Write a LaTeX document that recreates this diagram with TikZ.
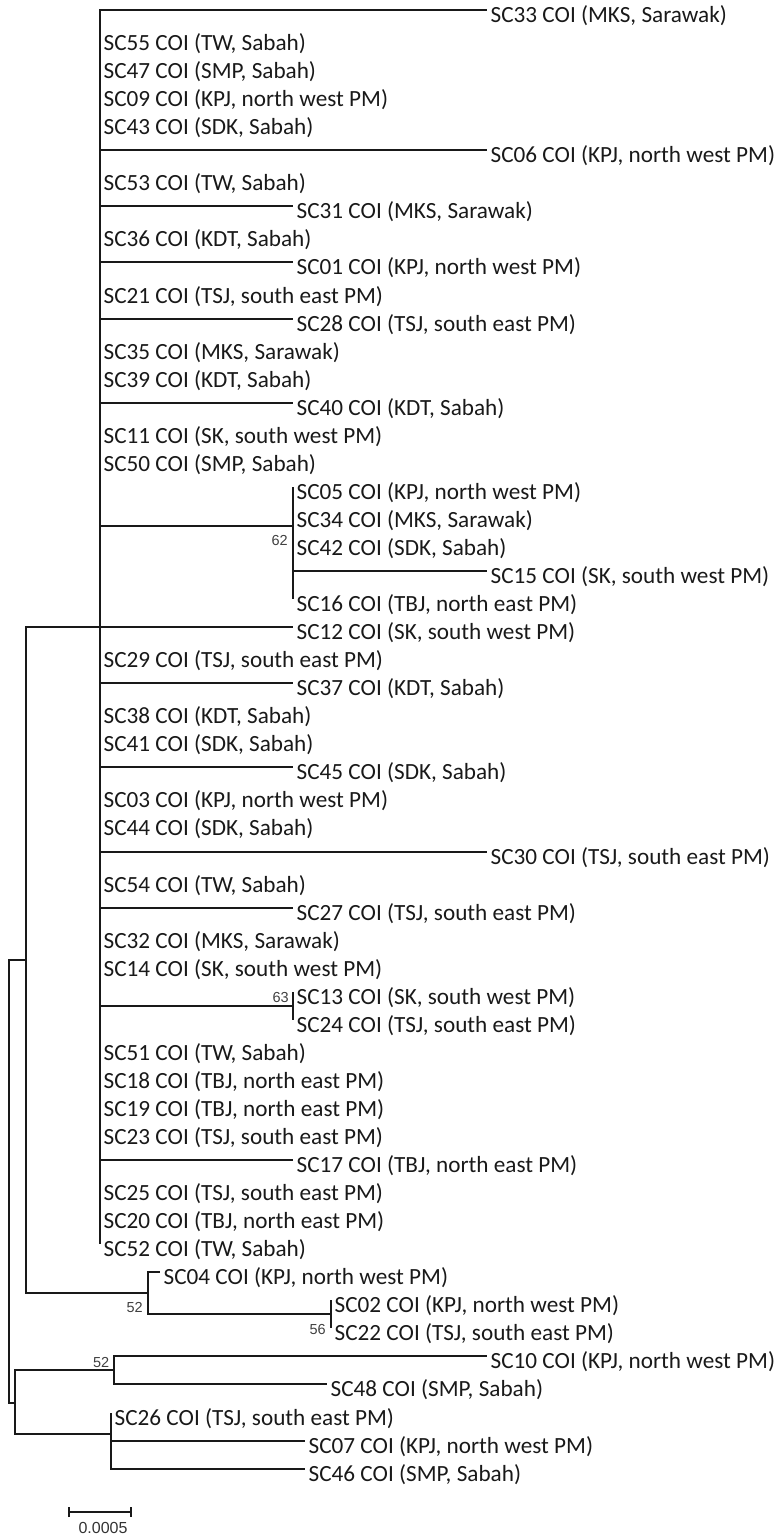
\documentclass[tikz,border=0pt]{standalone}
\usepackage{fontspec}
\setmainfont{Carlito}
\newfontfamily\numfont{Liberation Sans}
\usetikzlibrary{arrows.meta,positioning}

\begin{document}
\begin{tikzpicture}[
  x=1pt, y=-1pt,
  branch/.style={line width=2pt, black!90},
  leaf/.style={anchor=base west, inner sep=0pt, xshift=3.5pt, yshift=-12.5pt,
    font=\fontsize{23.2}{27}\selectfont, text=black!90},
  boot/.style={inner sep=0pt, font=\numfont\fontsize{14.5}{17}\selectfont, text=black!75},
  scalelbl/.style={inner sep=0pt, font=\numfont\fontsize{16}{19}\selectfont, text=black!80},
]
\useasboundingbox (0,0) rectangle (777,1537);

% Internal nodes
\coordinate (root) at (9,1181);
\coordinate (nA) at (26,960);
\coordinate (nMain) at (100,627.1);
\coordinate (n62) at (293,526);
\coordinate (n63) at (293,1005.8);
\coordinate (nB) at (148,1293.3);
\coordinate (n56) at (331,1314.4);
\coordinate (nC) at (15,1402.5);
\coordinate (nD) at (114,1370.4);
\coordinate (nE) at (111,1434);

% Leaves of the main clade
\path (487,10) coordinate (t33) node[leaf] (sc33) {SC33 COI (MKS, Sarawak)};
\path (100,38.05) coordinate (t55) node[leaf] (sc55) {SC55 COI (TW, Sabah)};
\path (100,66.1) coordinate (t47) node[leaf] (sc47) {SC47 COI (SMP, Sabah)};
\path (100,94.15) coordinate (t09) node[leaf] (sc09) {SC09 COI (KPJ, north west PM)};
\path (100,122.2) coordinate (t43) node[leaf] (sc43) {SC43 COI (SDK, Sabah)};
\path (487,150.25) coordinate (t06) node[leaf] (sc06) {SC06 COI (KPJ, north west PM)};
\path (100,178.3) coordinate (t53) node[leaf] (sc53) {SC53 COI (TW, Sabah)};
\path (293,206.35) coordinate (t31) node[leaf] (sc31) {SC31 COI (MKS, Sarawak)};
\path (100,234.4) coordinate (t36) node[leaf] (sc36) {SC36 COI (KDT, Sabah)};
\path (293,262.45) coordinate (t01) node[leaf] (sc01) {SC01 COI (KPJ, north west PM)};
\path (100,290.5) coordinate (t21) node[leaf] (sc21) {SC21 COI (TSJ, south east PM)};
\path (293,318.55) coordinate (t28) node[leaf] (sc28) {SC28 COI (TSJ, south east PM)};
\path (100,346.6) coordinate (t35) node[leaf] (sc35) {SC35 COI (MKS, Sarawak)};
\path (100,374.65) coordinate (t39) node[leaf] (sc39) {SC39 COI (KDT, Sabah)};
\path (293,402.7) coordinate (t40) node[leaf] (sc40) {SC40 COI (KDT, Sabah)};
\path (100,430.75) coordinate (t11) node[leaf] (sc11) {SC11 COI (SK, south west PM)};
\path (100,458.8) coordinate (t50) node[leaf] (sc50) {SC50 COI (SMP, Sabah)};
\path (293,486.85) coordinate (t05) node[leaf] (sc05) {SC05 COI (KPJ, north west PM)};
\path (293,514.9) coordinate (t34) node[leaf] (sc34) {SC34 COI (MKS, Sarawak)};
\path (293,542.95) coordinate (t42) node[leaf] (sc42) {SC42 COI (SDK, Sabah)};
\path (487,571) coordinate (t15) node[leaf] (sc15) {SC15 COI (SK, south west PM)};
\path (293,599.05) coordinate (t16) node[leaf] (sc16) {SC16 COI (TBJ, north east PM)};
\path (293,627.1) coordinate (t12) node[leaf] (sc12) {SC12 COI (SK, south west PM)};
\path (100,655.15) coordinate (t29) node[leaf] (sc29) {SC29 COI (TSJ, south east PM)};
\path (293,683.2) coordinate (t37) node[leaf] (sc37) {SC37 COI (KDT, Sabah)};
\path (100,711.25) coordinate (t38) node[leaf] (sc38) {SC38 COI (KDT, Sabah)};
\path (100,739.3) coordinate (t41) node[leaf] (sc41) {SC41 COI (SDK, Sabah)};
\path (293,767.35) coordinate (t45) node[leaf] (sc45) {SC45 COI (SDK, Sabah)};
\path (100,795.4) coordinate (t03) node[leaf] (sc03) {SC03 COI (KPJ, north west PM)};
\path (100,823.45) coordinate (t44) node[leaf] (sc44) {SC44 COI (SDK, Sabah)};
\path (487,851.5) coordinate (t30) node[leaf] (sc30) {SC30 COI (TSJ, south east PM)};
\path (100,879.55) coordinate (t54) node[leaf] (sc54) {SC54 COI (TW, Sabah)};
\path (293,907.6) coordinate (t27) node[leaf] (sc27) {SC27 COI (TSJ, south east PM)};
\path (100,935.65) coordinate (t32) node[leaf] (sc32) {SC32 COI (MKS, Sarawak)};
\path (100,963.7) coordinate (t14) node[leaf] (sc14) {SC14 COI (SK, south west PM)};
\path (293,991.75) coordinate (t13) node[leaf] (sc13) {SC13 COI (SK, south west PM)};
\path (293,1019.8) coordinate (t24) node[leaf] (sc24) {SC24 COI (TSJ, south east PM)};
\path (100,1047.85) coordinate (t51) node[leaf] (sc51) {SC51 COI (TW, Sabah)};
\path (100,1075.9) coordinate (t18) node[leaf] (sc18) {SC18 COI (TBJ, north east PM)};
\path (100,1103.95) coordinate (t19) node[leaf] (sc19) {SC19 COI (TBJ, north east PM)};
\path (100,1132) coordinate (t23) node[leaf] (sc23) {SC23 COI (TSJ, south east PM)};
\path (293,1160.05) coordinate (t17) node[leaf] (sc17) {SC17 COI (TBJ, north east PM)};
\path (100,1188.1) coordinate (t25) node[leaf] (sc25) {SC25 COI (TSJ, south east PM)};
\path (100,1216.15) coordinate (t20) node[leaf] (sc20) {SC20 COI (TBJ, north east PM)};
\path (100,1244.2) coordinate (t52) node[leaf] (sc52) {SC52 COI (TW, Sabah)};

% Leaves of the lower clades
\path (160,1272.25) coordinate (t04) node[leaf] (sc04) {SC04 COI (KPJ, north west PM)};
\path (331,1300.3) coordinate (t02) node[leaf] (sc02) {SC02 COI (KPJ, north west PM)};
\path (331,1328.35) coordinate (t22) node[leaf] (sc22) {SC22 COI (TSJ, south east PM)};
\path (487,1356.4) coordinate (t10) node[leaf] (sc10) {SC10 COI (KPJ, north west PM)};
\path (327,1384.45) coordinate (t48) node[leaf] (sc48) {SC48 COI (SMP, Sabah)};
\path (111,1412.5) coordinate (t26) node[leaf] (sc26) {SC26 COI (TSJ, south east PM)};
\path (305,1440.55) coordinate (t07) node[leaf] (sc07) {SC07 COI (KPJ, north west PM)};
\path (305,1468.6) coordinate (t46) node[leaf] (sc46) {SC46 COI (SMP, Sabah)};

% Branches
\draw[branch] (root) |- (nA) (root) |- (nC);
\draw[branch] (nA) |- (nMain) (nA) |- (nB);
\draw[branch] (nMain) |- (t33) (nMain) |- (t55) (nMain) |- (t47) (nMain) |- (t09)
  (nMain) |- (t43) (nMain) |- (t06) (nMain) |- (t53) (nMain) |- (t31)
  (nMain) |- (t36) (nMain) |- (t01) (nMain) |- (t21) (nMain) |- (t28)
  (nMain) |- (t35) (nMain) |- (t39) (nMain) |- (t40) (nMain) |- (t11)
  (nMain) |- (t50) (nMain) |- (n62) (nMain) |- (t12) (nMain) |- (t29)
  (nMain) |- (t37) (nMain) |- (t38) (nMain) |- (t41) (nMain) |- (t45)
  (nMain) |- (t03) (nMain) |- (t44) (nMain) |- (t30) (nMain) |- (t54)
  (nMain) |- (t27) (nMain) |- (t32) (nMain) |- (t14) (nMain) |- (n63)
  (nMain) |- (t51) (nMain) |- (t18) (nMain) |- (t19) (nMain) |- (t23)
  (nMain) |- (t17) (nMain) |- (t25) (nMain) |- (t20) (nMain) |- (t52);
\draw[branch] (n62) |- (t05) (n62) |- (t34) (n62) |- (t42) (n62) |- (t15) (n62) |- (t16);
\draw[branch] (n63) |- (t13) (n63) |- (t24);
\draw[branch] (nB) |- (t04) (nB) |- (n56);
\draw[branch] (n56) |- (t02) (n56) |- (t22);
\draw[branch] (nC) |- (nD) (nC) |- (nE);
\draw[branch] (nD) |- (t10) (nD) |- (t48);
\draw[branch] (nE) |- (t26) (nE) |- (t07) (nE) |- (t46);

% Bootstrap values
\node[boot, below left=9pt and 5pt of n62] (bs62) {62};
\node[boot, above left=3pt and 4pt of n63] (bs63) {63};
\node[boot, below left=9pt and 5pt of nB] (bsB) {52};
\node[boot, below left=10pt and 5pt of n56] (bs56) {56};
\node[boot, above left=3pt and 4.5pt of nD] (bsD) {52};

% Scale bar
\coordinate (sbl) at (68,1512);
\coordinate (sbr) at (132,1512);
\draw[branch, line width=1.8pt, {Bar[width=10pt]}-{Bar[width=10pt]}] (sbl) -- (sbr);
\node[scalelbl] (sclbl) at (103,1528) {0.0005};
\end{tikzpicture}
\end{document}
